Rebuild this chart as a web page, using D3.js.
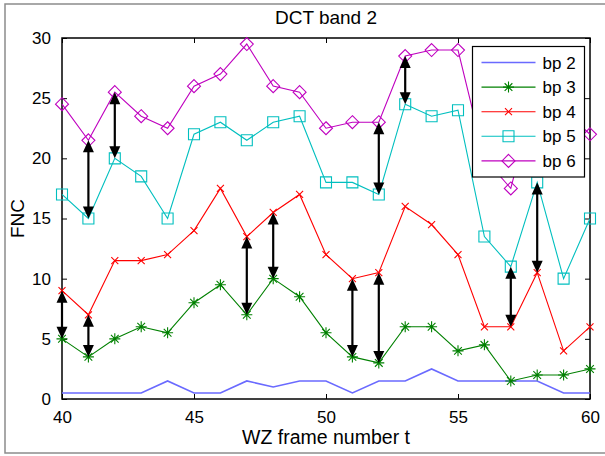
<!DOCTYPE html>
<html>
<head>
<meta charset="utf-8">
<script src="https://cdn.jsdelivr.net/npm/d3@7"></script>
<style>
  body { margin: 0; background: #fff; }
  svg text { font-family: "Liberation Sans", Arial, sans-serif; fill: #000; }
</style>
</head>
<body>
<div id="chart"></div>
<script>
// frames 40..60
var frames = d3.range(40, 61);

var bp2 = [0.5, 0.5, 0.5, 0.5, 1.5, 0.5, 0.5, 1.5, 1, 1.5, 1.5, 0.5, 1.5, 1.5, 2.5, 1.5, 1.5, 1.5, 1.5, 0.5, 0.5];
var bp3 = [5, 3.5, 5, 6, 5.5, 8, 9.5, 7, 10, 8.5, 5.5, 3.5, 3, 6, 6, 4, 4.5, 1.5, 2, 2, 2.5];
var bp4 = [9, 7, 11.5, 11.5, 12, 14, 17.5, 13.5, 15.5, 17, 12, 10, 10.5, 16, 14.5, 12, 6, 6, 10.5, 4, 6];
var bp5 = [17, 15, 20, 18.5, 15, 22, 23, 21.5, 23, 23.5, 18, 18, 17, 24.5, 23.5, 24, 13.5, 11, 18, 10, 15];
var bp6 = [24.5, 21.5, 25.5, 23.5, 22.5, 26, 27, 29.5, 26, 25.5, 22.5, 23, 23, 28.5, 29, 29, 20, 17.5, 26, 24, 22];

var seriesNames = ["bp 2", "bp 3", "bp 4", "bp 5", "bp 6"];
var seriesValues = [bp2, bp3, bp4, bp5, bp6];
var seriesColors = ["#6a6aff", "#008000", "#ff0000", "#00bfbf", "#bf00bf"];
var seriesMarkers = ["none", "star", "x", "square", "diamond"];

// double arrows between bit planes
var arrowX = [40, 41, 41, 42, 47, 48, 51, 52, 52, 53, 57, 58];
var arrowTop = [9, 7, 21.5, 25.5, 13.5, 15.5, 10, 10.5, 23, 28.5, 11, 18];
var arrowBottom = [5, 3.5, 15, 20, 7, 10, 3.5, 3, 17, 24.5, 6, 10.5];

var xTicks = [40, 45, 50, 55, 60];
var yTicks = [0, 5, 10, 15, 20, 25, 30];

var W = 605, H = 456;
var margin = {left: 62, right: 15, top: 38, bottom: 57};
var pw = W - margin.left - margin.right,
    ph = H - margin.top - margin.bottom;

var svg = d3.select("#chart").append("svg")
    .attr("width", W)
    .attr("height", H);

// figure frame
svg.append("rect")
    .attr("x", 5).attr("y", 4)
    .attr("width", 640).attr("height", 449)
    .attr("fill", "#fff")
    .attr("stroke", "#8c8c8c")
    .attr("stroke-width", 1.5);

var x = d3.scaleLinear().domain([40, 60]).range([0, pw]);
var y = d3.scaleLinear().domain([0, 30]).range([ph, 0]);

var g = svg.append("g")
    .attr("transform", "translate(" + margin.left + "," + margin.top + ")");

// axes, ticks inward on all sides
var tl = 5;
g.append("g").attr("transform", "translate(0," + ph + ")")
    .call(d3.axisBottom(x).tickValues(xTicks).tickSizeInner(-tl).tickSizeOuter(0).tickPadding(12))
    .call(function(a){ a.select(".domain").remove(); a.selectAll("text").style("font-size", "17px"); });
g.append("g")
    .call(d3.axisTop(x).tickValues(xTicks).tickSizeInner(-tl).tickSizeOuter(0).tickFormat(""))
    .call(function(a){ a.select(".domain").remove(); });
g.append("g")
    .call(d3.axisLeft(y).tickValues(yTicks).tickSizeInner(-tl).tickSizeOuter(0).tickPadding(11))
    .call(function(a){ a.select(".domain").remove(); a.selectAll("text").style("font-size", "17px"); });
g.append("g").attr("transform", "translate(" + pw + ",0)")
    .call(d3.axisRight(y).tickValues(yTicks).tickSizeInner(-tl).tickSizeOuter(0).tickFormat(""))
    .call(function(a){ a.select(".domain").remove(); });

g.append("rect")
    .attr("width", pw).attr("height", ph)
    .attr("fill", "none")
    .attr("stroke", "#000")
    .attr("stroke-width", 1.5);

function markerPath(kind, s) {
  if (kind === "star") {
    var d = s * 0.7;
    return "M" + (-s) + ",0L" + s + ",0M0," + (-s) + "L0," + s +
           "M" + (-d) + "," + (-d) + "L" + d + "," + d + "M" + (-d) + "," + d + "L" + d + "," + (-d);
  }
  if (kind === "x") return "M-3.5,-3.5L3.5,3.5M-3.5,3.5L3.5,-3.5";
  if (kind === "square") return "M-5.5,-5.5H5.5V5.5H-5.5Z";
  if (kind === "diamond") return "M0,-6.5L6.5,0L0,6.5L-6.5,0Z";
  return "";
}

var line = d3.line()
    .x(function(d, i) { return x(frames[i]); })
    .y(function(d) { return y(d); });

seriesValues.forEach(function(vals, k) {
  g.append("path")
      .datum(vals)
      .attr("d", line)
      .attr("fill", "none")
      .attr("stroke", seriesColors[k])
      .attr("stroke-width", k === 0 ? 1.6 : 1.1);
  if (seriesMarkers[k] !== "none") {
    g.selectAll(".m" + k)
        .data(vals)
      .enter().append("path")
        .attr("class", "m" + k)
        .attr("transform", function(d, i) { return "translate(" + x(frames[i]) + "," + y(d) + ")"; })
        .attr("d", markerPath(seriesMarkers[k], 5.5))
        .attr("fill", "none")
        .attr("stroke", seriesColors[k])
        .attr("stroke-width", 1.1);
  }
});

// arrows
var headL = 12, headW = 5.5;
arrowX.forEach(function(ax, i) {
  var px = x(ax), y1 = y(arrowTop[i]), y2 = y(arrowBottom[i]);
  g.append("line")
      .attr("x1", px).attr("x2", px)
      .attr("y1", y1 + headL - 1).attr("y2", y2 - headL + 1)
      .attr("stroke", "#000").attr("stroke-width", 2.2);
  g.append("path")
      .attr("d", "M" + px + "," + y1 + "L" + (px - headW) + "," + (y1 + headL) + "L" + (px + headW) + "," + (y1 + headL) + "Z")
      .attr("fill", "#000");
  g.append("path")
      .attr("d", "M" + px + "," + y2 + "L" + (px - headW) + "," + (y2 - headL) + "L" + (px + headW) + "," + (y2 - headL) + "Z")
      .attr("fill", "#000");
});

// legend
var lg = svg.append("g").attr("transform", "translate(472.5,46.5)");
lg.append("rect")
    .attr("width", 112).attr("height", 130.5)
    .attr("fill", "#fff")
    .attr("stroke", "#000")
    .attr("stroke-width", 1.2);
seriesNames.forEach(function(name, k) {
  var ly = 16 + k * 24.6;
  lg.append("line")
      .attr("x1", 9).attr("x2", 63)
      .attr("y1", ly).attr("y2", ly)
      .attr("stroke", seriesColors[k])
      .attr("stroke-width", k === 0 ? 1.6 : 1.1);
  if (seriesMarkers[k] !== "none") {
    lg.append("path")
        .attr("transform", "translate(36," + ly + ")")
        .attr("d", markerPath(seriesMarkers[k], 5.5))
        .attr("fill", "none")
        .attr("stroke", seriesColors[k])
        .attr("stroke-width", 1.1);
  }
  lg.append("text")
      .attr("x", 70).attr("y", ly + 6)
      .style("font-size", "17px")
      .text(name);
});

// title and labels
svg.append("text")
    .attr("x", margin.left + pw / 2).attr("y", 24)
    .attr("text-anchor", "middle")
    .style("font-size", "19px")
    .text("DCT band 2");
svg.append("text")
    .attr("x", margin.left + pw / 2).attr("y", 444)
    .attr("text-anchor", "middle")
    .style("font-size", "19.5px")
    .text("WZ frame number t");
svg.append("text")
    .attr("transform", "translate(24," + (margin.top + ph / 2) + ") rotate(-90)")
    .attr("text-anchor", "middle")
    .style("font-size", "19px")
    .text("FNC");
</script>
</body>
</html>
